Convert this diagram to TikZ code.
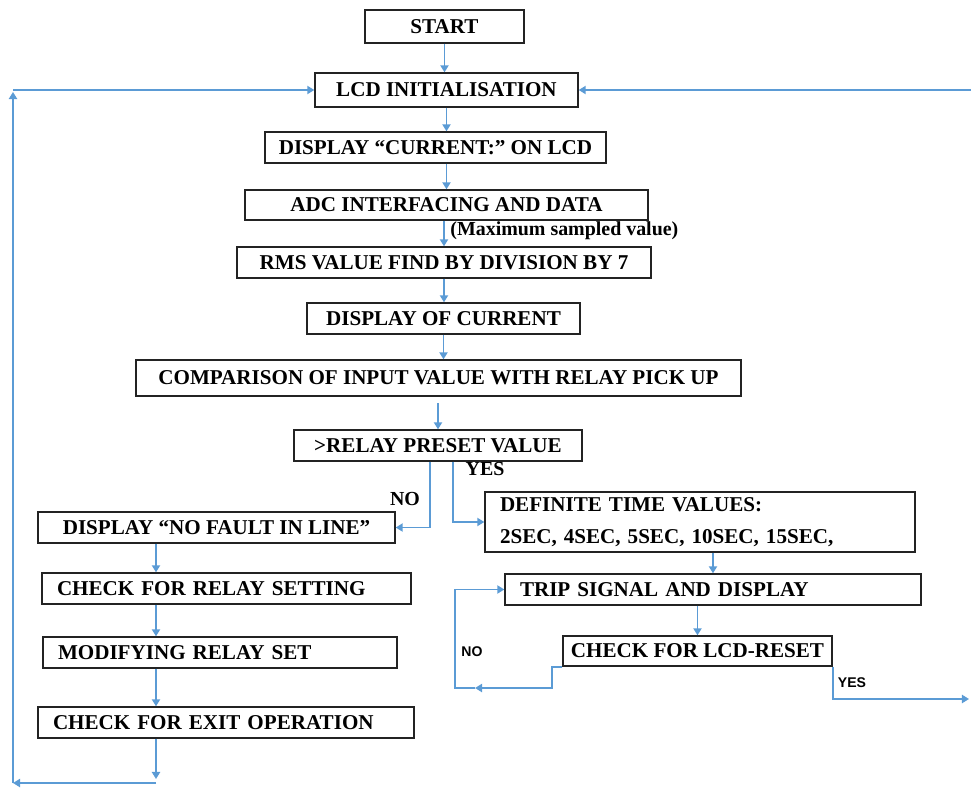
\documentclass[tikz,border=0pt]{standalone}
\usepackage{fontspec}
\setmainfont{Liberation Serif}
\newfontfamily\lblsans{Liberation Sans}
\usetikzlibrary{positioning,arrows.meta}
\definecolor{flowblue}{RGB}{91,155,213}
\definecolor{boxgray}{RGB}{35,35,35}

\begin{document}
\begin{tikzpicture}[x=0.3mm,y=-0.3mm,
    blk/.style={draw=boxgray,line width=1.2pt,font=\bfseries\fontsize{18}{21}\selectfont,inner sep=0pt},
    lblk/.style={blk,align=left,inner xsep=4.5mm},
    flow/.style={draw=flowblue,line width=1.4pt,-{Triangle[width=7pt,length=6pt]}},
    lbl/.style={font=\bfseries\fontsize{17}{19}\selectfont,inner sep=1pt},
    sml/.style={font=\lblsans\bfseries\fontsize{12}{14}\selectfont,inner sep=1pt}]
\useasboundingbox (0,0) rectangle (971,787);

% main column
\node[blk,minimum width=159*0.3mm,minimum height=33*0.3mm] (start) at (444.5,26.5) {START};
\node[blk,minimum width=263*0.3mm,minimum height=34*0.3mm] (lcd) at (446.5,90) {LCD INITIALISATION};
\node[blk,minimum width=341*0.3mm,minimum height=31*0.3mm] (dispcur) at (435.5,147.5) {DISPLAY ``CURRENT:'' ON LCD};
\node[blk,minimum width=403*0.3mm,minimum height=30*0.3mm] (adc) at (446.5,205) {ADC INTERFACING AND DATA};
\node[blk,minimum width=414*0.3mm,minimum height=31*0.3mm] (rms) at (444,262.5) {RMS VALUE FIND BY DIVISION BY 7};
\node[blk,minimum width=273*0.3mm,minimum height=31*0.3mm] (curr) at (443.5,318.5) {DISPLAY OF CURRENT};
\node[blk,minimum width=605*0.3mm,minimum height=36*0.3mm] (comp) at (438.5,378) {COMPARISON OF INPUT VALUE WITH RELAY PICK UP};
\node[blk,minimum width=288*0.3mm,minimum height=31*0.3mm] (preset) at (438,445.5) {>RELAY PRESET VALUE};

% yes branch
\node[lblk,text width=400*0.3mm,minimum height=60*0.3mm] (definite) at (700,522)
  {DEFINITE TIME VALUES:\\[6pt]2SEC, 4SEC, 5SEC, 10SEC, 15SEC,};
\node[lblk,text width=386*0.3mm,minimum height=31*0.3mm] (trip) at (713,589.5) {TRIP SIGNAL AND DISPLAY};
\node[blk,minimum width=269*0.3mm,minimum height=30*0.3mm] (lcdreset) at (697.5,651) {CHECK FOR LCD-RESET};

% no branch
\node[blk,minimum width=357*0.3mm,minimum height=31*0.3mm] (nofault) at (216.5,527.5) {DISPLAY ``NO FAULT IN LINE''};
\node[lblk,text width=339*0.3mm,minimum height=31*0.3mm] (relayset) at (226.5,588.5) {CHECK FOR RELAY SETTING};
\node[lblk,text width=324*0.3mm,minimum height=31*0.3mm] (modify) at (220,652.5) {MODIFYING RELAY SET};
\node[lblk,text width=346*0.3mm,minimum height=31*0.3mm] (exitop) at (226,722.5) {CHECK FOR EXIT OPERATION};

\node[lbl,anchor=west] (maxval) at (449,231) {(Maximum sampled value)};
\node[lbl] (yes1) at (485,469) {YES};
\node[lbl] (no1) at (405,499) {NO};
\node[sml] (no2) at (472,652) {NO};
\node[sml] (yes2) at (852,683) {YES};

\coordinate (pno) at (430,0);
\coordinate (pyes) at (453,0);
\coordinate (lx) at (156,0);
\coordinate (lbot) at (156,779);
\coordinate (lb2) at (156,783);
\coordinate (lcorner) at (13,783);
\coordinate (ltop) at (13,92);
\coordinate (rtop) at (971,92);
\coordinate (rbot) at (969,699);
\coordinate (nomid) at (475,688);
\coordinate (noleft) at (455,688);

\draw[flow] (start.south) -- (start.south |- lcd.north);
\draw[flow] (lcd.south) -- (lcd.south |- dispcur.north);
\draw[flow] (adc.north |- dispcur.south) -- (adc.north);
\draw[flow] (rms.north |- adc.south) -- (rms.north);
\draw[flow] (rms.south) -- (rms.south |- curr.north);
\draw[flow] (curr.south) -- (curr.south |- comp.north);
\draw[flow,shorten <=2mm] (preset.north |- comp.south) -- (preset.north);

\draw[flow] (pno |- preset.south) |- (nofault.east);
\draw[flow] (pyes |- preset.south) |- (definite.west);

\draw[flow] (trip.north |- definite.south) -- (trip.north);
\draw[flow] (lcdreset.north |- trip.south) -- (lcdreset.north);
\draw[flow] (lcdreset.south west) -- ++(-10,0) |- (nomid);
\draw[flow] (nomid) -- (noleft) |- (trip.west);
\draw[flow] (lcdreset.south east) |- (rbot);
\draw[flow] (rtop |- lcd.east) -- (lcd.east);

\draw[flow] (lx |- nofault.south) -- (lx |- relayset.north);
\draw[flow] (lx |- relayset.south) -- (lx |- modify.north);
\draw[flow] (lx |- modify.south) -- (lx |- exitop.north);
\draw[flow] (lx |- exitop.south) -- (lbot);
\draw[flow] (lb2) -- (lcorner);
\draw[flow] (lcorner) -- (ltop);
\draw[flow] (ltop |- lcd.west) -- (lcd.west);
\end{tikzpicture}
\end{document}
